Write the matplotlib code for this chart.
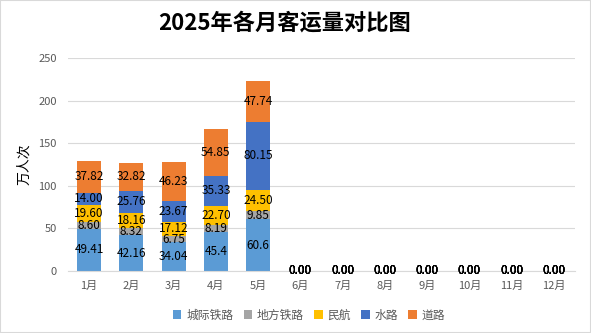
import matplotlib
matplotlib.use("Agg")
import matplotlib.pyplot as plt
from matplotlib.patches import Patch, Rectangle

plt.rcParams['font.family'] = ['Noto Sans CJK SC', 'DejaVu Sans']

#Data
months = ['1月', '2月', '3月', '4月', '5月', '6月', '7月', '8月', '9月', '10月', '11月', '12月']
series_names = ['城际铁路', '地方铁路', '民航', '水路', '道路']
intercity_rail = [49.41, 42.16, 34.04, 45.4, 60.6, 0, 0, 0, 0, 0, 0, 0]
local_rail = [8.60, 8.32, 6.75, 8.19, 9.85, 0, 0, 0, 0, 0, 0, 0]
aviation = [19.60, 18.16, 17.12, 22.70, 24.50, 0, 0, 0, 0, 0, 0, 0]
waterway = [14.00, 25.76, 23.67, 35.33, 80.15, 0, 0, 0, 0, 0, 0, 0]
road = [37.82, 32.82, 46.23, 54.85, 47.74, 0, 0, 0, 0, 0, 0, 0]
intercity_labels = ['49.41', '42.16', '34.04', '45.4', '60.6'] + ['0.00'] * 7

colors = ['#5B9BD5', '#A5A5A5', '#FFC000', '#4472C4', '#ED7D31']
all_series = [intercity_rail, local_rail, aviation, waterway, road]

fig = plt.figure(figsize=(5.91, 3.33), dpi=100)
ax = fig.add_axes([68/591, 1-271/333, (575-68)/591, (271-58)/333])

x = list(range(len(months)))
bottom = [0] * len(months)
for i, (vals, col) in enumerate(zip(all_series, colors)):
    bars = ax.bar(x, vals, width=0.57, bottom=bottom, color=col, zorder=2)
    if i == 0:
        labs = intercity_labels
    else:
        labs = ['%.2f' % v for v in vals]
    ax.bar_label(bars, labels=labs, label_type='center', fontsize=8.5, color='black')
    bottom = [b + v for b, v in zip(bottom, vals)]

ax.set_xlim(-0.5, len(months) - 0.5)
ax.set_ylim(0, 250)
ax.set_yticks([0, 50, 100, 150, 200, 250])
ax.set_xticks(x)
ax.set_xticklabels(months)
ax.tick_params(axis='both', length=0, labelsize=8, colors='#595959')
ax.tick_params(axis='y', pad=8)
ax.tick_params(axis='x', pad=7)
ax.grid(axis='y', color='#D9D9D9', linewidth=0.8, zorder=0)
for s in ['left', 'right', 'top']:
    ax.spines[s].set_visible(False)
ax.spines['bottom'].set_color('#D9D9D9')

ax.set_ylabel('万人次', fontsize=10, color='black', labelpad=5)

fig.text(285/591, 1-23/333, '2025年各月客运量对比图', ha='center', va='center',
         fontsize=16, fontweight='bold')

handles = [Patch(facecolor=c, label=n) for c, n in zip(colors, series_names)]
fig.legend(handles=handles, loc='center', bbox_to_anchor=(309/591, 1-315/333), ncol=5,
           frameon=False, fontsize=8.5, handlelength=0.7, handleheight=0.7,
           handletextpad=0.4, columnspacing=0.9, labelcolor='#595959')

fig.patches.append(Rectangle((0, 0), 1, 1, transform=fig.transFigure, fill=False,
                             edgecolor='#D9D9D9', linewidth=1.5))

fig.savefig('out.png', dpi=100)
